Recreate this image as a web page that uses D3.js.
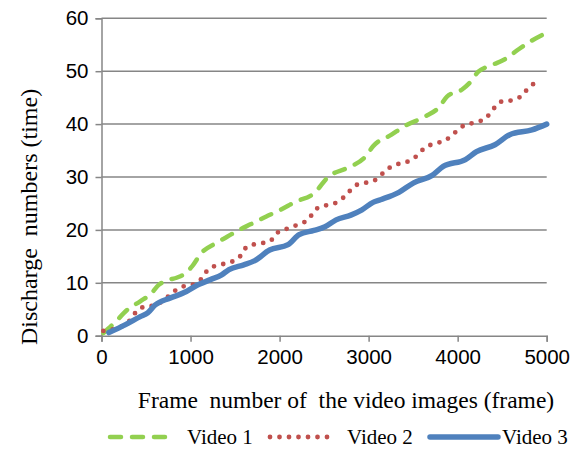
<!DOCTYPE html>
<html><head><meta charset="utf-8">
<script src="https://cdn.jsdelivr.net/npm/d3@7/dist/d3.min.js"></script>
<style>body{margin:0;background:#fff}svg{display:block}text{white-space:pre}</style>
</head><body>
<svg id="c" width="579" height="456"></svg>
<script>
const xTicks = [0,1000,2000,3000,4000,5000];
const yTicks = [0,10,20,30,40,50,60];
const seriesNames = ["Video 1","Video 2","Video 3"];
const v1Frames = [21,145,290,435,560,643,726,851,934,1017,1120,1286,1411,1556,1680,1846,2012,2178,2386,2552,2759,2967,3050,3257,3423,3631,3797,3880,4046,4129,4232,4378,4544,4689,4834,4979];
const v1Values = [0.5,2.4,4.9,6.5,8.0,9.6,10.4,11.0,11.7,13.1,15.6,17.5,18.7,20.1,21.1,22.5,23.8,25.3,26.9,30.1,31.7,33.9,35.8,38.0,39.8,41.4,43.3,45.2,46.5,47.7,49.9,51.1,52.4,54.2,55.8,57.1];
const v2Frames = [21,270,435,602,685,788,892,1017,1120,1203,1328,1452,1556,1639,1763,1888,1971,2095,2220,2324,2407,2531,2656,2759,2851,2967,3091,3195,3299,3423,3527,3631,3734,3859,3963,4066,4191,4315,4398,4481,4606,4730,4813,4938];
const v2Values = [0.9,2.1,5.2,5.8,6.5,8.0,9.2,9.6,10.7,12.6,13.4,13.9,15.0,16.9,17.4,17.8,19.4,20.3,21.1,22.0,23.9,24.7,25.3,26.8,28.4,28.9,29.6,31.3,32.3,32.8,33.8,35.5,36.3,36.9,38.3,39.7,40.3,41.1,42.8,44.2,44.5,45.5,47.2,48.0];
const v3Frames = [83,270,435,519,602,768,934,1058,1224,1349,1432,1598,1722,1888,2095,2220,2386,2510,2635,2800,2925,3050,3133,3340,3506,3714,3838,4087,4212,4419,4585,4834,5000];
const v3Values = [0.6,2.1,3.6,4.3,5.8,7.1,8.2,9.4,10.6,11.5,12.5,13.4,14.2,16.2,17.2,19.1,19.9,20.6,21.9,22.8,23.8,25.2,25.7,27.1,28.9,30.3,32.0,33.3,34.8,36.1,38.0,38.9,40.0];

const colors = ["#92D050","#C0504D","#4F81BD"];
const svg = d3.select("#c");
const x = d3.scaleLinear().domain([0,5000]).range([101.5,546.7]);
const y = d3.scaleLinear().domain([0,60]).range([335.7,18.3]);
const grid = "#868686";
const serif = "'Liberation Serif','Times New Roman',serif";

svg.append("g").selectAll("line").data(yTicks.filter(d=>d>0)).join("line")
  .attr("x1",x(0)).attr("x2",x(5000)).attr("y1",d=>y(d)).attr("y2",d=>y(d))
  .attr("stroke",grid).attr("stroke-width",1.5);

const yAxis = svg.append("g").attr("transform",`translate(${x(0)},0)`)
  .call(d3.axisLeft(y).tickValues(yTicks).tickSize(6).tickPadding(7));
const xAxis = svg.append("g").attr("transform",`translate(0,${y(0)})`)
  .call(d3.axisBottom(x).tickValues(xTicks).tickSize(6).tickPadding(8).tickFormat(d3.format("d")));
[yAxis,xAxis].forEach(a=>{
  a.selectAll(".domain").attr("stroke",grid).attr("stroke-width",1.5);
  a.selectAll(".tick line").attr("stroke",grid).attr("stroke-width",1.5);
  a.selectAll(".tick text").attr("fill","#000").style("font-family","'Liberation Sans',Arial,sans-serif").style("font-size","20.5px");
});

const line = d3.line().x(d=>x(d[0])).y(d=>y(d[1])).curve(d3.curveMonotoneX);
const series = [
  {f:v1Frames,v:v1Values,dash:"11,11",w:4.5},
  {f:v2Frames,v:v2Values,dash:"0,9.5",w:4.8},
  {f:v3Frames,v:v3Values,dash:null,w:5.5}
];
series.forEach((s,i)=>{
  const p = svg.append("path").datum(s.f.map((f,j)=>[f,s.v[j]]))
    .attr("d",line).attr("fill","none").attr("stroke",colors[i])
    .attr("stroke-width",s.w).attr("stroke-linecap","round").attr("stroke-linejoin","round");
  if(s.dash) p.attr("stroke-dasharray",s.dash);
});

const yt = svg.append("text").attr("transform","translate(37,345) rotate(-90)").attr("text-anchor","start")
  .style("font-family",serif).style("font-size","24px");
yt.append("tspan").text("Discharge");
yt.append("tspan").attr("dx",12).text("numbers (time)");

svg.append("text").attr("x",346).attr("y",408).attr("text-anchor","middle")
  .style("font-family",serif).style("font-size","23.5px")
  .text("Frame  number of  the video images (frame)");

const leg = [{x1:110,x2:168,tx:187},{x1:270,x2:330,tx:347},{x1:430,x2:498,tx:502}];
leg.forEach((l,i)=>{
  const s = series[i];
  const ln = svg.append("line").attr("x1",l.x1).attr("x2",l.x2).attr("y1",437).attr("y2",437)
    .attr("stroke",colors[i]).attr("stroke-width",s.w).attr("stroke-linecap","round");
  if(s.dash) ln.attr("stroke-dasharray",s.dash);
  svg.append("text").attr("x",l.tx).attr("y",444)
    .style("font-family",serif).style("font-size","21px")
    .text(seriesNames[i]);
});
</script>
</body></html>
